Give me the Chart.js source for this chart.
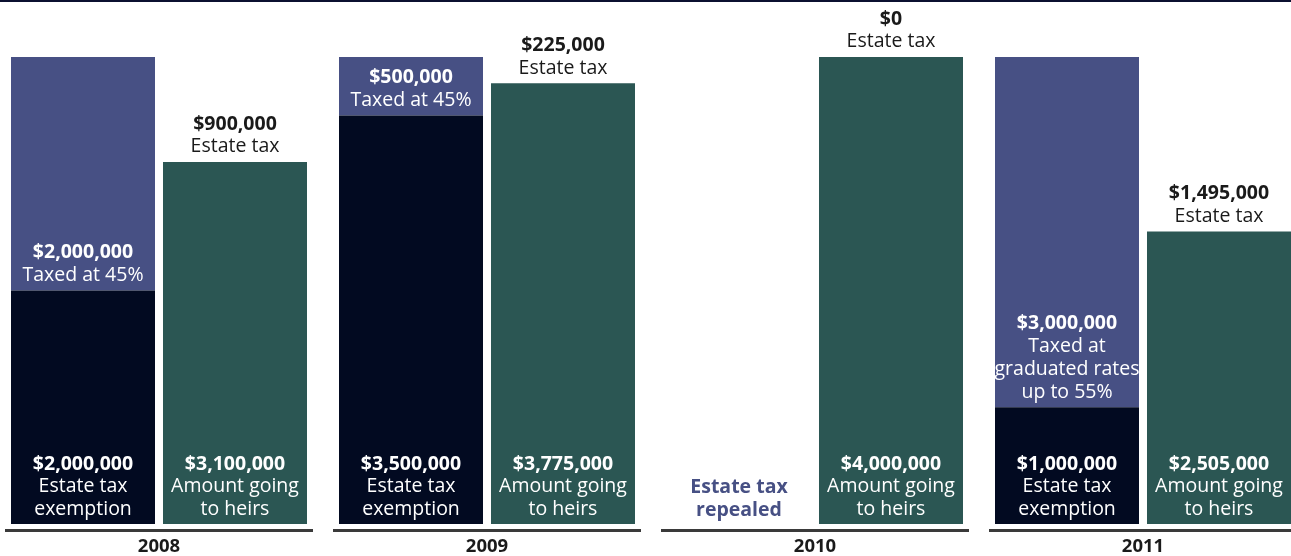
<!DOCTYPE html>
<html>
<head>
<meta charset="utf-8">
<script src="https://cdn.jsdelivr.net/npm/chart.js@4"></script>
<style>
  html, body { margin: 0; padding: 0; background: #fff; overflow: hidden; }
  #wrap { position: absolute; left: -5px; top: 0; width: 1312px; height: 556px; }
</style>
</head>
<body>
<div id="wrap"><canvas id="chart"></canvas></div>
<script>
// values, in dollars
const years = ['2008', '2009', '2010', '2011'];
const exemption = [2000000, 3500000, 0, 1000000];
const taxed = [2000000, 500000, 0, 3000000];
const heirs = [3100000, 3775000, 4000000, 2505000];
const estateTax = [900000, 225000, 0, 1495000];
const taxedNotes = [['Taxed at 45%'], ['Taxed at 45%'], [], ['Taxed at', 'graduated rates', 'up to 55%']];
const exemptionNote = ['Estate tax', 'exemption'];
const heirsNote = ['Amount going', 'to heirs'];
const repealedNote = ['Estate tax', 'repealed'];

const NAVY = '#020a21';
const PURPLE = '#475084';
const GREEN = '#2b5653';
const FONT = '"Open Sans", sans-serif';
const LH = 22.8;

const money = v => '$' + v.toLocaleString('en-US');

function lines(ctx, x, yFirst, arr, color, boldFirst) {
  ctx.fillStyle = color;
  arr.forEach((t, i) => {
    ctx.font = (boldFirst && i === 0 ? 'bold ' : '') + '19.5px ' + FONT;
    ctx.fillText(t, x, yFirst + i * LH);
  });
}

const labels = {
  id: 'labels',
  afterDraw(chart) {
    const ctx = chart.ctx;
    const w = chart.width;
    ctx.save();
    ctx.textAlign = 'center';
    ctx.textBaseline = 'middle';

    // rule across the top
    ctx.fillStyle = '#0b1030';
    ctx.fillRect(0, 0, w, 2);

    const exM = chart.getDatasetMeta(0).data;
    const txM = chart.getDatasetMeta(1).data;
    const hM = chart.getDatasetMeta(2).data;
    const bottom = chart.chartArea.bottom;

    years.forEach((yr, j) => {
      const xl = exM[j].x;
      const xr = hM[j].x;
      const cx = (xl + xr) / 2;

      // bottom labels
      if (exemption[j] > 0) {
        lines(ctx, xl, bottom - 60, [money(exemption[j])].concat(exemptionNote), '#fff', true);
      } else {
        ctx.fillStyle = PURPLE;
        ctx.font = 'bold 19.5px ' + FONT;
        ctx.fillText(repealedNote[0], xl, bottom - 37);
        ctx.fillText(repealedNote[1], xl, bottom - 14);
      }
      lines(ctx, xr, bottom - 60, [money(heirs[j])].concat(heirsNote), '#fff', true);

      // taxed segment label, stacked up from the segment bottom
      if (taxed[j] > 0) {
        const arr = [money(taxed[j])].concat(taxedNotes[j]);
        const segBottom = txM[j].base;
        const yFirst = segBottom - 15 - (arr.length - 1) * LH;
        lines(ctx, xl, yFirst, arr, '#fff', true);
      }

      // estate tax above the heirs bar
      const top = hM[j].y;
      lines(ctx, xr, top - 38, [money(estateTax[j]), 'Estate tax'], '#1a1a1a', true);

      // year rule and label
      ctx.fillStyle = '#3a3a3a';
      ctx.fillRect(cx - 154, bottom + 5, 308, 3);
      ctx.fillStyle = '#1a1a1a';
      ctx.font = 'bold 18.5px ' + FONT;
      ctx.fillText(yr, cx, bottom + 23);
    });
    ctx.restore();
  }
};

new Chart(document.getElementById('chart'), {
  type: 'bar',
  data: {
    labels: years,
    datasets: [
      { label: 'Estate tax exemption', data: exemption, backgroundColor: NAVY, stack: 'estate' },
      { label: 'Taxed', data: taxed, backgroundColor: PURPLE, stack: 'estate' },
      { label: 'Amount going to heirs', data: heirs, backgroundColor: GREEN, stack: 'heirs' }
    ]
  },
  options: {
    responsive: true,
    maintainAspectRatio: false,
    animation: false,
    categoryPercentage: 0.9268,
    barPercentage: 0.9474,
    layout: { padding: { top: 57, bottom: 32, left: 0, right: 0 } },
    plugins: { legend: { display: false }, tooltip: { enabled: false } },
    scales: {
      x: { stacked: true, display: false },
      y: { stacked: true, display: false, min: 0, max: 4000000 }
    }
  },
  plugins: [labels]
});
</script>
</body>
</html>
